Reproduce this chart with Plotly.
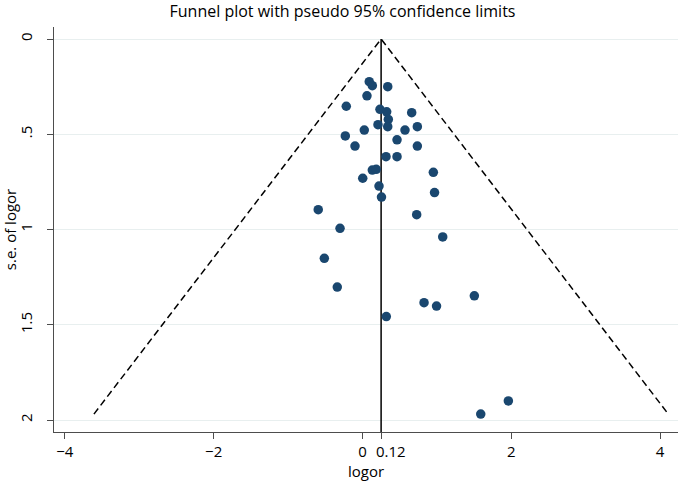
import plotly.graph_objects as go

# Study estimates
logor = [0.091, 0.132, 0.339, 0.060, -0.218, 0.235, 0.325, 0.661, 0.347, 0.208,
         0.339, 0.737, 0.024, 0.571, -0.231, 0.464, -0.101, 0.737, 0.316, 0.464,
         0.132, 0.185, 0.952, 0.003, 0.222, 0.968, 0.255, -0.595, 0.728, -0.302,
         1.078, -0.513, -0.339, 1.503, 0.827, 0.995, 0.320, 1.589, 1.960]
se_logor = [0.224, 0.245, 0.250, 0.298, 0.353, 0.369, 0.382, 0.387, 0.422, 0.450,
            0.460, 0.460, 0.478, 0.478, 0.509, 0.529, 0.562, 0.562, 0.618, 0.618,
            0.688, 0.684, 0.700, 0.731, 0.772, 0.806, 0.830, 0.896, 0.922, 0.994,
            1.039, 1.151, 1.302, 1.348, 1.384, 1.402, 1.457, 1.969, 1.900]

pooled = 0.25          # position of the vertical line (as drawn)
pooled_label = "0.12"  # label shown on the axis
z = 1.96

x_ticks = [-4, -2, 0, pooled, 2, 4]
x_ticktext = ["\u22124", "\u22122", "0", "", "2", "4"]
y_ticks = [0, 0.5, 1, 1.5, 2]
y_ticktext = ["0", ".5", "1", "1.5", "2"]

x_range = [-4.146, 4.24]
y_range = [2.063, -0.063]

se_max = max(se_logor)
navy = "#1a476f"
font = "Open Sans"

fig = go.Figure()
# pseudo 95% confidence limits
fig.add_trace(go.Scatter(
    x=[pooled - z * se_max, pooled, pooled + z * se_max],
    y=[se_max, 0, se_max],
    mode="lines", line=dict(color="black", width=1.5, dash="7px,4px"),
    hoverinfo="skip", showlegend=False))
# pooled estimate line
fig.add_trace(go.Scatter(
    x=[pooled, pooled], y=[0, y_range[0]],
    mode="lines", line=dict(color="black", width=1.5),
    hoverinfo="skip", showlegend=False))
# studies
fig.add_trace(go.Scatter(
    x=logor, y=se_logor, mode="markers",
    marker=dict(color=navy, size=9.5, line=dict(width=0)),
    showlegend=False))

# label of the pooled-estimate tick, nudged right of the "0" label
fig.add_annotation(text=pooled_label, x=pooled, xref="x", y=0, yref="paper",
                   yanchor="top", xanchor="center", xshift=10, yshift=-7,
                   showarrow=False, font=dict(family=font, size=15, color="black"))

fig.update_layout(
    width=685, height=485,
    margin=dict(l=54, r=7, t=27, b=53, autoexpand=False),
    paper_bgcolor="white", plot_bgcolor="white",
    font=dict(family=font, size=15, color="black"),
    title=dict(text="Funnel plot with pseudo 95% confidence limits",
               x=0.5, xanchor="center", y=0.977, yanchor="middle",
               font=dict(family=font, size=16, color="black")),
    xaxis=dict(range=x_range, tickmode="array", tickvals=x_ticks, ticktext=x_ticktext,
               showgrid=False, zeroline=False, showline=True, linecolor="#4d4d4d",
               linewidth=1.2, ticks="outside", ticklen=6, tickcolor="#4d4d4d",
               tickangle=0, automargin=False,
               title=dict(text="logor", standoff=2, font=dict(size=15)),
               tickfont=dict(size=15)),
    yaxis=dict(range=y_range, tickmode="array", tickvals=y_ticks, ticktext=y_ticktext,
               showgrid=True, gridcolor="#e8efef", gridwidth=1, zeroline=False,
               showline=True, linecolor="#4d4d4d", linewidth=1.2, ticks="outside",
               ticklen=6, tickcolor="#4d4d4d", tickangle=-90, automargin=False,
               ticklabelstandoff=9,
               title=dict(text="s.e. of logor", standoff=5, font=dict(size=15)),
               tickfont=dict(size=15)),
)

fig.write_html("out.html", config={"displayModeBar": False},
               post_script="document.body.style.margin='0';")
